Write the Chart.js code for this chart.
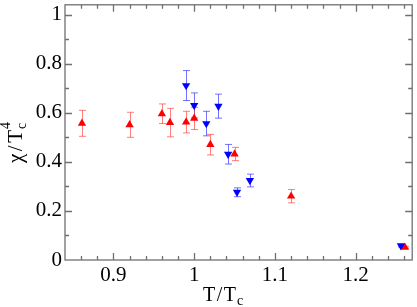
<!DOCTYPE html>
<html>
<head>
<meta charset="utf-8">
<script src="https://cdn.jsdelivr.net/npm/chart.js@4/dist/chart.umd.min.js"></script>
<style>
  html, body { margin: 0; padding: 0; background: #fff; }
  .graphBox { width: 417px; height: 307px; }
</style>
</head>
<body>
<div class="graphBox"><canvas id="chart"></canvas></div>
<script>
// red triangles (up)
const redT = [0.861, 0.92, 0.96, 0.97, 0.99, 1.0, 1.02, 1.05, 1.12, 1.261];
const redChi = [0.557, 0.551, 0.596, 0.56, 0.562, 0.577, 0.47, 0.432, 0.26, 0.052];
const redErr = [0.053, 0.051, 0.04, 0.058, 0.044, 0.045, 0.042, 0.027, 0.027, 0.004];
// blue triangles (down)
const blueT = [0.99, 1.0, 1.015, 1.03, 1.042, 1.053, 1.069, 1.256];
const blueChi = [0.711, 0.63, 0.556, 0.627, 0.431, 0.276, 0.324, 0.058];
const blueErr = [0.061, 0.051, 0.05, 0.049, 0.04, 0.018, 0.026, 0.005];

const xMajor = [0.9, 1.0, 1.1, 1.2];
const yMajor = [0, 0.2, 0.4, 0.6, 0.8, 1];
const xLabels = ['0.9', '1', '1.1', '1.2'];
const yLabels = ['0', '0.2', '0.4', '0.6', '0.8', '1'];

const FONT = '"Liberation Serif", "Times New Roman", serif';
const AXIS = '#707070';

const toPts = (xs, ys) => xs.map((x, i) => ({ x: x, y: ys[i] }));

const errorBars = {
  id: 'errorBars',
  beforeDatasetsDraw(chart) {
    const ctx = chart.ctx;
    const xs = chart.scales.x, ys = chart.scales.y;
    chart.data.datasets.forEach(ds => {
      ctx.save();
      ctx.strokeStyle = ds.errColor;
      ctx.lineWidth = 1;
      ds.data.forEach((p, i) => {
        const px = Math.round(xs.getPixelForValue(p.x)) + 0.5;
        const top = ys.getPixelForValue(p.y + ds.err[i]);
        const bot = ys.getPixelForValue(p.y - ds.err[i]);
        ctx.beginPath();
        ctx.moveTo(px, top); ctx.lineTo(px, bot);
        ctx.moveTo(px - 3.5, top); ctx.lineTo(px + 3.5, top);
        ctx.moveTo(px - 3.5, bot); ctx.lineTo(px + 3.5, bot);
        ctx.stroke();
      });
      ctx.restore();
    });
  }
};

// draw "a / T" pieces with a little extra spacing, then subscript c and superscript 4
function spaced(ctx, parts, gap) {
  let x = 0;
  parts.forEach(t => { ctx.fillText(t, x, 0); x += ctx.measureText(t).width + gap; });
  return x - gap;
}

const frame = {
  id: 'frame',
  afterDraw(chart) {
    const ctx = chart.ctx;
    const a = chart.chartArea;
    const xs = chart.scales.x, ys = chart.scales.y;
    ctx.save();
    ctx.strokeStyle = AXIS;
    ctx.lineWidth = 1.3;
    ctx.strokeRect(a.left, a.top, a.right - a.left, a.bottom - a.top);
    ctx.beginPath();
    // x ticks, inward on bottom and top
    for (let v = 0.86; v < 1.27; v += 0.02) {
      const major = Math.abs(v * 10 - Math.round(v * 10)) < 1e-6;
      const len = major ? 7 : 4;
      const px = Math.round(xs.getPixelForValue(v)) + 0.5;
      ctx.moveTo(px, a.bottom); ctx.lineTo(px, a.bottom - len);
      ctx.moveTo(px, a.top); ctx.lineTo(px, a.top + len);
    }
    // y ticks, inward on left and right
    for (let v = 0.1; v < 1.04; v += 0.1) {
      const major = Math.abs(v * 5 - Math.round(v * 5)) < 1e-6;
      const len = major ? 7 : 4;
      const py = Math.round(ys.getPixelForValue(v)) + 0.5;
      ctx.moveTo(a.left, py); ctx.lineTo(a.left + len, py);
      ctx.moveTo(a.right, py); ctx.lineTo(a.right - len, py);
    }
    ctx.stroke();

    // axis titles
    ctx.fillStyle = '#000';
    ctx.textBaseline = 'alphabetic';
    ctx.textAlign = 'left';

    ctx.save();
    ctx.translate(203, 301);
    ctx.font = '20px ' + FONT;
    let w = spaced(ctx, ['T', '/', 'T'], 1.5);
    ctx.font = '14px ' + FONT;
    ctx.fillText('c', w + 1, 4);
    ctx.restore();

    ctx.translate(22, 163);
    ctx.rotate(-Math.PI / 2);
    ctx.font = '21px ' + FONT;
    w = spaced(ctx, ['\u03c7', '/', 'T'], 2.5);
    ctx.font = '14px ' + FONT;
    ctx.fillText('c', w + 1, 4);
    ctx.fillText('4', w + 1, -12);
    ctx.restore();
  }
};

new Chart(document.getElementById('chart'), {
  type: 'scatter',
  data: {
    datasets: [
      {
        label: 'blue',
        data: toPts(blueT, blueChi),
        err: blueErr,
        errColor: 'rgba(40, 40, 255, 0.65)',
        pointStyle: 'triangle',
        rotation: 180,
        radius: 4.8,
        backgroundColor: '#0000ff',
        borderColor: '#0000ff',
        borderWidth: 0
      },
      {
        label: 'red',
        data: toPts(redT, redChi),
        err: redErr,
        errColor: 'rgba(255, 40, 40, 0.6)',
        pointStyle: 'triangle',
        radius: 4.8,
        backgroundColor: '#ff0000',
        borderColor: '#ff0000',
        borderWidth: 0
      }
    ]
  },
  options: {
    responsive: true,
    maintainAspectRatio: false,
    animation: false,
    events: [],
    layout: { padding: { top: 1, right: 1, left: 0, bottom: 0 } },
    plugins: { legend: { display: false }, tooltip: { enabled: false } },
    scales: {
      x: {
        type: 'linear',
        min: 0.84,
        max: 1.27,
        afterBuildTicks: s => { s.ticks = xMajor.map(v => ({ value: v })); },
        afterFit: s => { s.height = 47; s.paddingLeft = 0; s.paddingRight = 0; },
        grid: { display: false, drawTicks: false },
        border: { display: false },
        ticks: {
          autoSkip: false,
          maxRotation: 0,
          padding: 3,
          color: '#000',
          font: { family: FONT, size: 21 },
          callback: (v, i) => xLabels[i]
        }
      },
      y: {
        type: 'linear',
        min: 0,
        max: 1.04,
        afterBuildTicks: s => { s.ticks = yMajor.map(v => ({ value: v })); },
        afterFit: s => { s.width = 65; s.paddingTop = 0; s.paddingBottom = 0; },
        grid: { display: false, drawTicks: false },
        border: { display: false },
        ticks: {
          autoSkip: false,
          padding: 3,
          color: '#000',
          font: { family: FONT, size: 21 },
          callback: (v, i) => yLabels[i]
        }
      }
    }
  },
  plugins: [errorBars, frame]
});
</script>
</body>
</html>
